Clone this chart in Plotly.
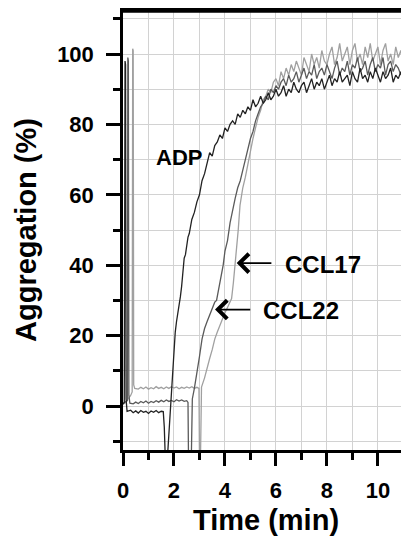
import plotly.graph_objects as go

# ---------------- data ----------------
adp_t = [0.00, 0.05, 0.08, 0.10, 0.12, 0.16, 0.3, 0.4, 0.5, 0.6, 0.7, 0.8, 0.9, 1.0, 1.1, 1.2, 1.3, 1.4, 1.5,
         1.58, 1.62, 1.66, 1.74, 1.80, 1.87, 1.94, 2.00, 2.05, 2.10, 2.15, 2.20, 2.25, 2.30, 2.35, 2.40, 2.45,
         2.50, 2.55, 2.60, 2.7, 2.8, 2.9, 3.0, 3.1, 3.2, 3.3, 3.4, 3.5, 3.6, 3.7, 3.8, 3.9, 4.0, 4.1, 4.2,
         4.3, 4.4, 4.5, 4.6, 4.7, 4.8, 4.9, 5.0, 5.1, 5.2, 5.3, 5.4, 5.5, 5.6, 5.7, 5.8, 5.9, 6.0, 6.1, 6.2,
         6.3, 6.4, 6.5, 6.6, 6.7, 6.8, 6.9, 7.0, 7.1, 7.2, 7.3, 7.4, 7.5, 7.6, 7.7, 7.8, 7.9, 8.0, 8.1, 8.2,
         8.3, 8.4, 8.5, 8.6, 8.7, 8.8, 8.9, 9.0, 9.1, 9.2, 9.3, 9.4, 9.5, 9.6, 9.7, 9.8, 9.9, 10.0, 10.1,
         10.2, 10.3, 10.4, 10.5, 10.6, 10.7, 10.8, 10.9, 11.0, 11.1, 11.2]
adp_y = [0.5, 1.0, 98, 97, 2, -1.5, -1.2, -1.9, -1.4, -2.0, -1.3, -1.8, -1.5, -2.1, -1.4, -1.8, -1.3, -1.9, -1.5,
         -1.6, -6, -15, -15, -8, 1, 9, 15, 21, 24, 26, 29, 31, 34, 38, 42, 43,
         46, 48, 49, 53, 55, 58, 60, 64, 66, 69, 72, 71, 74, 75, 77, 76, 79, 78, 80,
         81, 80, 83, 82, 84, 83, 85, 84, 87, 85, 86, 88, 86, 87, 89, 87, 88, 90, 88, 89,
         91, 88, 90, 89, 92, 90, 89, 91, 92, 89, 91, 93, 90, 92, 91, 93, 90, 92, 94, 91,
         93, 92, 95, 92, 93, 94, 91, 95, 93, 92, 96, 93, 94, 92, 95, 93, 96, 94, 92,
         95, 93, 94, 96, 92, 94, 93, 95, 92, 94, 93]

ccl22_t = [0.00, 0.10, 0.17, 0.19, 0.21, 0.23, 0.27, 0.4, 0.5, 0.6, 0.7, 0.8, 0.9, 1.0, 1.1, 1.2, 1.3, 1.4,
           1.5, 1.6, 1.7, 1.8, 1.9, 2.0, 2.1, 2.2, 2.3, 2.4, 2.5, 2.55, 2.57, 2.68, 2.72, 2.8, 2.9, 3.0,
           3.1, 3.2, 3.3, 3.4, 3.5, 3.6, 3.67, 3.75, 3.85, 3.93, 4.0, 4.1, 4.2, 4.3, 4.4, 4.5, 4.6, 4.7,
           4.8, 4.9, 5.0, 5.1, 5.2, 5.3, 5.4, 5.5, 5.6, 5.7, 5.8, 5.9, 6.0, 6.1, 6.2, 6.3, 6.4, 6.5, 6.6,
           6.7, 6.8, 6.9, 7.0, 7.1, 7.2, 7.3, 7.4, 7.5, 7.6, 7.7, 7.8, 7.9, 8.0, 8.1, 8.2, 8.3, 8.4, 8.5,
           8.6, 8.7, 8.8, 8.9, 9.0, 9.1, 9.2, 9.3, 9.4, 9.5, 9.6, 9.7, 9.8, 9.9, 10.0, 10.1, 10.2, 10.3,
           10.4, 10.5, 10.6, 10.7, 10.8, 10.9, 11.0, 11.1, 11.2]
ccl22_y = [0.8, 1.2, 1.5, 99, 98, 3, 0.8, 0.6, 1.1, 0.7, 1.3, 0.9, 1.4, 0.8, 1.3, 1.0, 1.5, 1.1,
           1.6, 1.2, 1.7, 1.3, 1.6, 1.2, 1.8, 1.4, 1.7, 1.3, 1.5, 1.0, -15, -15, 2, 5, 9, 14,
           19, 22, 24, 26, 28, 29.5, 30, 33, 37, 40, 44, 47, 52, 56, 59, 62, 64, 67,
           70, 73, 76, 78, 81, 83, 85, 86, 88, 87, 90, 89, 91, 90, 92, 93, 91, 94, 92,
           93, 95, 92, 94, 96, 93, 95, 94, 97, 93, 95, 96, 94, 97, 95, 93, 96, 98, 94,
           96, 95, 98, 94, 97, 96, 99, 95, 96, 98, 94, 97, 99, 95, 97, 96, 99, 94,
           97, 98, 95, 97, 96, 94, 97, 95, 96]

ccl17_t = [0.00, 0.10, 0.20, 0.30, 0.36, 0.38, 0.40, 0.42, 0.46, 0.6, 0.7, 0.8, 0.9, 1.0, 1.1, 1.2, 1.3,
           1.4, 1.5, 1.6, 1.7, 1.8, 1.9, 2.0, 2.1, 2.2, 2.3, 2.4, 2.5, 2.6, 2.7, 2.8, 2.9, 2.98, 3.00,
           3.04, 3.08, 3.2, 3.3, 3.4, 3.5, 3.6, 3.7, 3.8, 3.9, 4.0, 4.1, 4.2, 4.26, 4.33, 4.40, 4.46,
           4.52, 4.59, 4.7, 4.8, 4.9, 5.0, 5.1, 5.2, 5.3, 5.4, 5.5, 5.6, 5.7, 5.8, 5.9, 6.0, 6.1, 6.2,
           6.3, 6.4, 6.5, 6.6, 6.7, 6.8, 6.9, 7.0, 7.1, 7.2, 7.3, 7.4, 7.5, 7.6, 7.7, 7.8, 7.9, 8.0,
           8.1, 8.2, 8.3, 8.4, 8.5, 8.6, 8.7, 8.8, 8.9, 9.0, 9.1, 9.2, 9.3, 9.4, 9.5, 9.6, 9.7, 9.8,
           9.9, 10.0, 10.1, 10.2, 10.3, 10.4, 10.5, 10.6, 10.7, 10.8, 10.9, 11.0, 11.1, 11.2]
ccl17_y = [0.5, 1.0, 2.0, 3.0, 4.0, 101.5, 101, 6, 5, 4.8, 5.3, 4.9, 5.4, 4.8, 5.2, 4.9, 5.5,
           5.0, 5.3, 4.9, 5.4, 5.0, 5.5, 5.1, 5.4, 4.9, 5.3, 5.0, 5.4, 5.1, 5.5, 5.0, 5.3, 5.0, -15,
           -15, 5.4, 8, 11, 13.5, 16, 19, 21, 23, 25, 26.5, 28, 29.5, 30.5, 35, 40, 45,
           50, 57, 62, 65, 69, 72, 76, 79, 82, 84, 87, 88, 90, 89, 92, 93, 91, 95,
           93, 96, 94, 97, 95, 98, 96, 94, 99, 97, 95, 100, 97, 99, 96, 101, 98, 97,
           100, 102, 97, 99, 103, 98, 100, 102, 97, 101, 103, 98, 100, 97, 102, 99, 103, 98,
           100, 102, 97, 101, 103, 98, 100, 97, 102, 99, 101, 97, 100, 98]

x_tick_vals = [0, 2, 4, 6, 8, 10]
y_tick_vals = [0, 20, 40, 60, 80, 100]

# ---------------- figure ----------------
fig = go.Figure()
fig.add_trace(go.Scatter(x=ccl17_t, y=ccl17_y, mode="lines",
                         line=dict(color="#a0a0a0", width=1.3), name="CCL17"))
fig.add_trace(go.Scatter(x=ccl22_t, y=ccl22_y, mode="lines",
                         line=dict(color="#5a5a5a", width=1.3), name="CCL22"))
fig.add_trace(go.Scatter(x=adp_t, y=adp_y, mode="lines",
                         line=dict(color="#222222", width=1.3), name="ADP"))

FAM = "Liberation Sans, Arial, sans-serif"
tickfont = dict(family=FAM, size=22, color="black", weight="bold")
titlefont = dict(family=FAM, size=29, color="black", weight="bold")
grid = "#d2d2d2"

fig.update_xaxes(range=[0, 11.22], tickvals=x_tick_vals, ticks="outside", ticklen=13, tickwidth=2.5,
                 tickcolor="black", showline=True, linewidth=2.5, linecolor="black", mirror=True,
                 showgrid=True, gridcolor=grid, gridwidth=1.2, zeroline=False, automargin=False,
                 minor=dict(dtick=1, tick0=0, ticks="outside", ticklen=7, tickwidth=2.5, tickcolor="black",
                            showgrid=True, gridcolor=grid, gridwidth=1.2),
                 tickfont=tickfont, ticklabelstandoff=6,
                 title=dict(text="Time (min)", font=titlefont, standoff=8))
fig.update_yaxes(range=[-12.5, 112.5], tickvals=y_tick_vals, ticks="outside", ticklen=14, tickwidth=2.5,
                 tickcolor="black", showline=True, linewidth=2.5, linecolor="black", mirror=False,
                 showgrid=True, gridcolor=grid, gridwidth=1.2, zeroline=False, automargin=False,
                 minor=dict(dtick=10, tick0=0, ticks="outside", ticklen=7, tickwidth=2.5, tickcolor="black",
                            showgrid=True, gridcolor=grid, gridwidth=1.2),
                 tickfont=tickfont, ticklabelstandoff=8,
                 title=dict(text="Aggregation (%)", font=titlefont, standoff=12))

# top frame line, drawn slightly inside the plot area so it is never clipped
fig.add_shape(type="line", xref="paper", yref="paper", x0=-0.004, x1=1.02, y0=0.997, y1=0.997,
              line=dict(color="black", width=3), layer="above")

labfont = dict(family=FAM, size=24, color="black", weight="bold")
fig.add_annotation(x=1.23, y=70.5, text="ADP", showarrow=False, xanchor="left", yanchor="middle",
                   font=dict(family=FAM, size=22, color="black", weight="bold"))
fig.add_annotation(x=6.26, y=40.3, text="CCL17", showarrow=False, xanchor="left", yanchor="middle", font=labfont)
fig.add_annotation(x=5.40, y=27.0, text="CCL22", showarrow=False, xanchor="left", yanchor="middle", font=labfont)
fig.add_annotation(x=4.46, y=40.6, ax=5.88, ay=40.6, xref="x", yref="y", axref="x", ayref="y", text="",
                   showarrow=True, arrowhead=4, arrowsize=2, arrowwidth=1.8, arrowcolor="black", standoff=0)
fig.add_annotation(x=3.61, y=27.4, ax=5.05, ay=27.4, xref="x", yref="y", axref="x", ayref="y", text="",
                   showarrow=True, arrowhead=4, arrowsize=2, arrowwidth=1.8, arrowcolor="black", standoff=0)

# the page body adds an 8 px offset, so margins are reduced accordingly
fig.update_layout(width=409, height=539, margin=dict(l=115, r=8, t=2, b=97),
                  paper_bgcolor="white", plot_bgcolor="white", showlegend=False)

fig.write_html("out.html")
